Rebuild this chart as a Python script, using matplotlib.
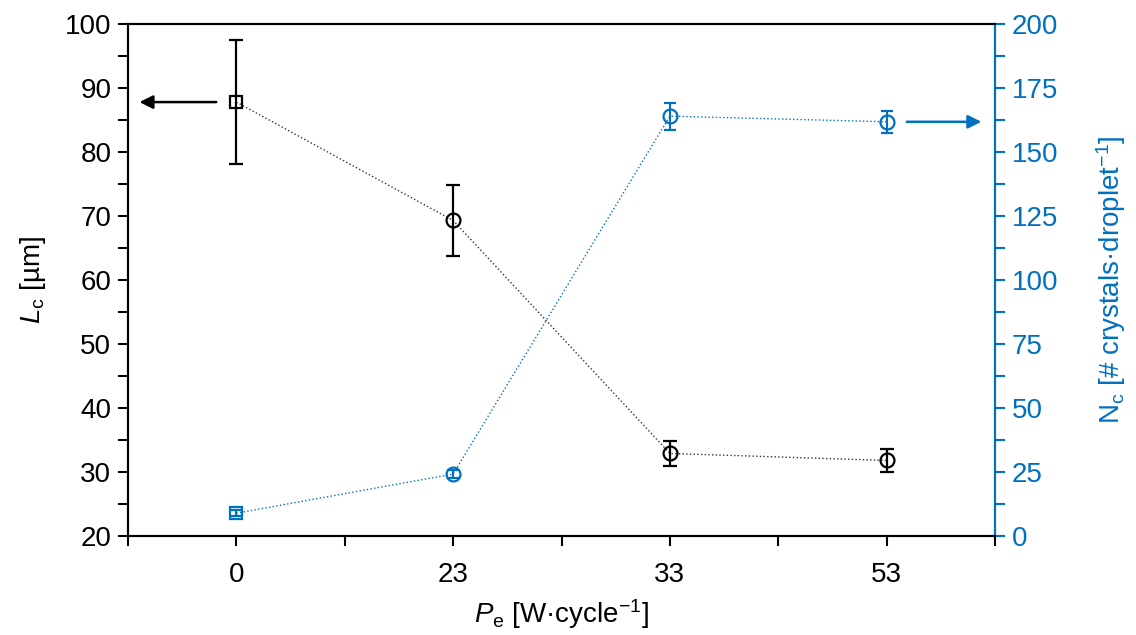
import numpy as np
import matplotlib.pyplot as plt
from matplotlib.ticker import MultipleLocator

plt.rcParams["font.family"] = ["Liberation Sans", "DejaVu Sans"]
plt.rcParams["mathtext.fontset"] = "custom"
plt.rcParams["mathtext.rm"] = "Liberation Sans"
plt.rcParams["mathtext.it"] = "Liberation Sans:italic"

BLUE = "#0070C0"

# data
power_labels = ["0", "23", "33", "53"]
lc_mean = [87.8, 69.3, 32.9, 31.8]
lc_err = [9.7, 5.6, 1.9, 1.75]
nc_mean = [8.9, 24.2, 164.0, 161.8]
nc_err = [1.2, 1.5, 5.3, 4.2]

xpos = np.arange(len(power_labels))
FS = 20

fig = plt.figure(figsize=(11.36, 6.35), dpi=100)
ax = fig.add_axes([128 / 1136, 1 - 536 / 635, 867 / 1136, 512 / 635])
ax2 = ax.twinx()

# Lc on the left axis
ax.plot(xpos, lc_mean, ls=":", lw=1.0, color="#333333", zorder=2)
ax.errorbar(xpos[:1], lc_mean[:1], yerr=lc_err[:1], fmt="s", ms=9, mfc="none",
            mec="k", mew=1.6, ecolor="k", elinewidth=1.6, capsize=5, capthick=1.6)
ax.errorbar(xpos[1:], lc_mean[1:], yerr=lc_err[1:], fmt="o", ms=10, mfc="none",
            mec="k", mew=1.6, ecolor="k", elinewidth=1.6, capsize=5, capthick=1.6)

# Nc on the right axis
ax2.plot(xpos, nc_mean, ls=":", lw=1.0, color=BLUE, zorder=2)
ax2.errorbar(xpos[:1], nc_mean[:1], yerr=nc_err[:1], fmt="s", ms=9, mfc="none",
             mec=BLUE, mew=1.6, ecolor=BLUE, elinewidth=1.5, capsize=4, capthick=1.5)
ax2.errorbar(xpos[1:], nc_mean[1:], yerr=nc_err[1:], fmt="o", ms=10, mfc="none",
             mec=BLUE, mew=1.6, ecolor=BLUE, elinewidth=1.5, capsize=4, capthick=1.5)

# arrows pointing to the matching axis
ax.annotate("", xy=(-0.46, lc_mean[0]), xytext=(-0.08, lc_mean[0]),
            arrowprops=dict(arrowstyle="-|>", color="k", lw=1.8, mutation_scale=20))
ax2.annotate("", xy=(3.45, nc_mean[3]), xytext=(3.08, nc_mean[3]),
             arrowprops=dict(arrowstyle="-|>", color=BLUE, lw=1.8, mutation_scale=20))

ax.set_xlim(-0.5, 3.5)
ax.set_ylim(20, 100)
ax2.set_ylim(0, 200)

ax.set_xticks(np.arange(-0.5, 3.6, 0.5))
ax.set_xticklabels(["", "0", "", "23", "", "33", "", "53", ""])
ax.yaxis.set_major_locator(MultipleLocator(10))
ax.yaxis.set_minor_locator(MultipleLocator(5))
ax2.yaxis.set_major_locator(MultipleLocator(25))
ax2.yaxis.set_minor_locator(MultipleLocator(12.5))

ax.tick_params(axis="both", which="both", direction="out", width=1.5,
               length=7, labelsize=FS, colors="k")
ax.tick_params(axis="y", which="major", pad=5)
ax.tick_params(axis="x", which="major", pad=12)
ax2.tick_params(axis="y", which="both", direction="out", width=1.5, length=7,
                labelsize=FS, colors=BLUE, pad=5)

for s in ax.spines.values():
    s.set_linewidth(1.5)
for s in ax2.spines.values():
    s.set_linewidth(1.5)
ax2.spines["right"].set_color(BLUE)

ax.set_ylabel(r"$\mathit{L}_{\mathrm{c}}$ [µm]", fontsize=FS, labelpad=12)
ax.set_xlabel(r"$\mathit{P}_{\mathrm{e}}$ [W·cycle$^{\mathrm{-1}}$]", fontsize=FS, labelpad=6)
ax2.set_ylabel(r"N$_{\mathrm{c}}$ [# crystals·droplet$^{\mathrm{-1}}$]", fontsize=FS,
               color=BLUE, labelpad=26)

fig.savefig("out.png", dpi=100)
